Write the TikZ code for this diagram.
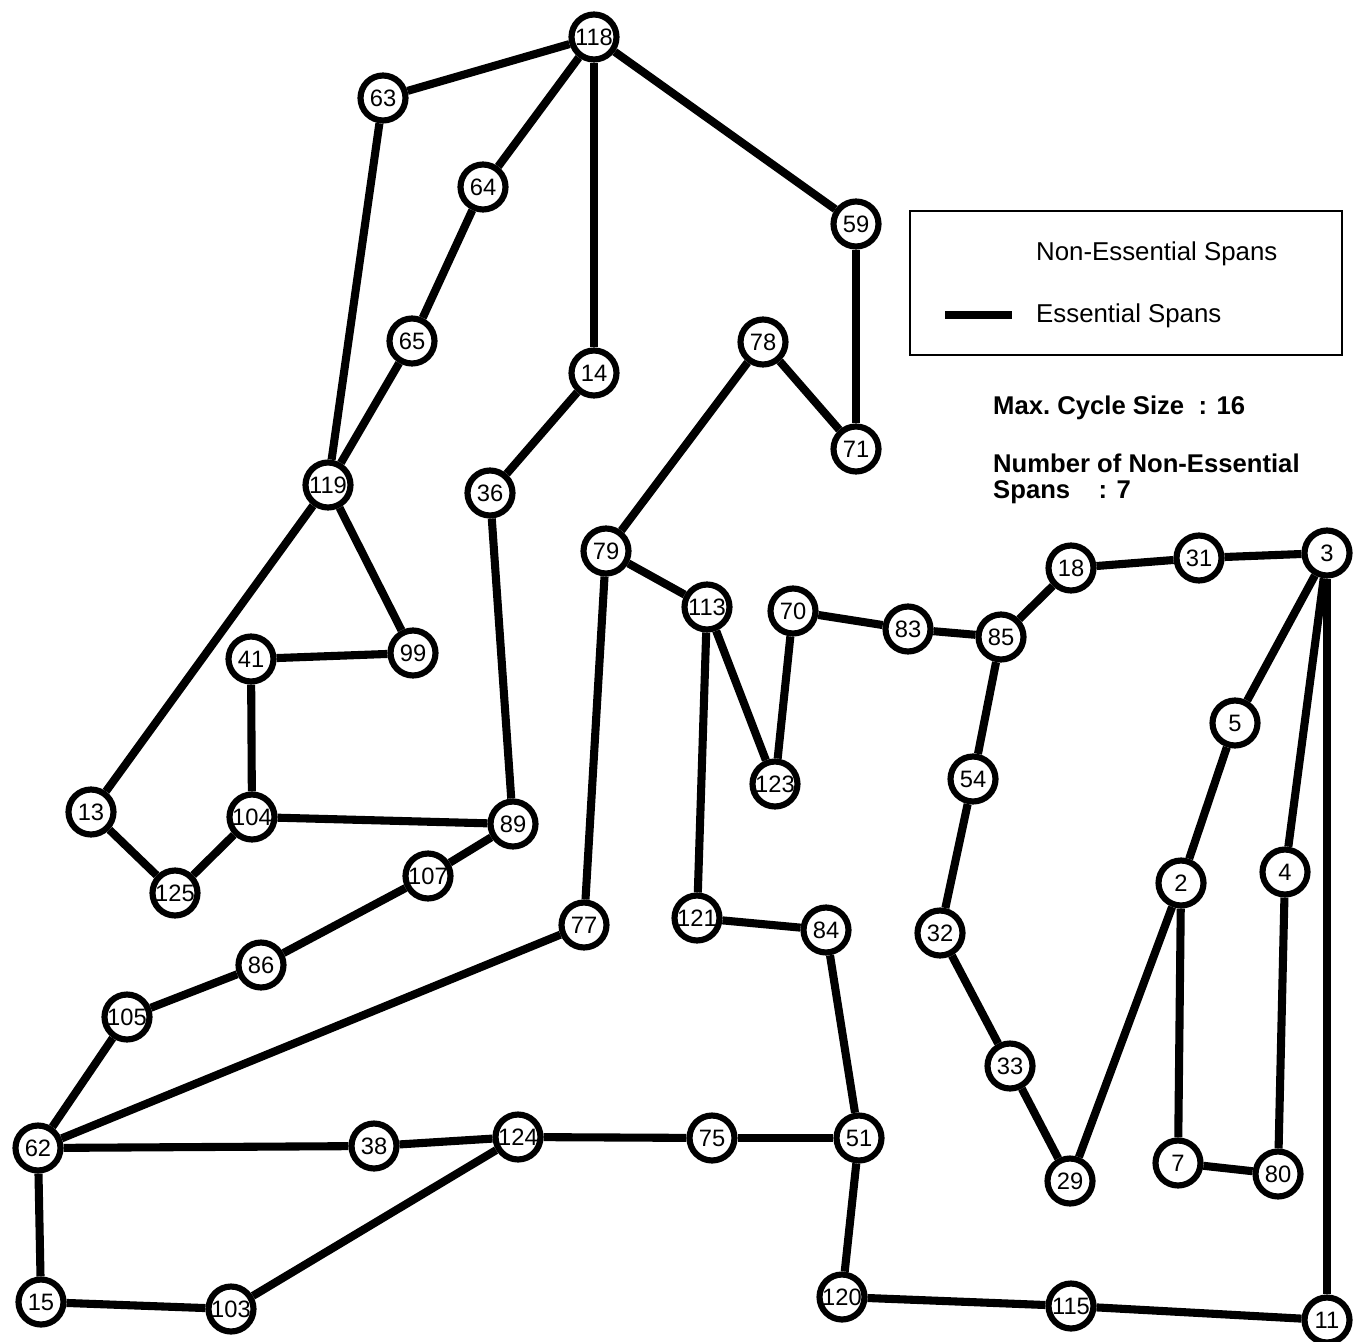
\documentclass[tikz,border=0pt]{standalone}
\usepackage{fontspec}
\setmainfont{Liberation Sans}
\usetikzlibrary{positioning}

\begin{document}
\begin{tikzpicture}[x=0.02cm, y=-0.02cm,
  site/.style={circle, draw, line width=3.5pt, fill=white, inner sep=0pt,
               minimum size=0.9cm, font=\fontsize{13.5}{13.5}\selectfont},
  span/.style={line width=4.6pt},
  legendtext/.style={anchor=west, font=\fontsize{14.7}{15}\selectfont},
  infotext/.style={anchor=west, align=left, font=\bfseries\fontsize{14.6}{14.8}\selectfont}
]
  \useasboundingbox (0,0) rectangle (1361,1341);
  % sites
  \foreach \name/\x/\y in {118/594/37, 63/383/98, 64/483/187, 59/856/224,
      65/412/341, 14/594/373, 78/763/342, 71/856/449, 119/328/485, 36/490/493,
      79/606/551, 113/707/607, 70/793/611, 83/908/629, 85/1001/637, 18/1071/568,
      31/1199/558, 3/1327/553, 41/251/659, 99/413/653, 5/1235/723, 54/973/779,
      123/775/784, 13/91/812, 104/252/817, 89/513/824, 107/428/876, 125/175/893,
      4/1285/872, 2/1181/883, 77/584/925, 121/697/918, 84/826/930, 32/940/933,
      86/261/965, 105/127/1017, 33/1010/1066, 62/38/1148, 38/374/1146,
      124/518/1137, 75/712/1138, 51/859/1138, 29/1070/1181, 7/1178/1163,
      80/1278/1174, 15/41/1302, 103/231/1309, 120/842/1297, 115/1071/1306,
      11/1327/1320}
    \node[site] (n\name) at (\x,\y) {\name};
  % essential spans
  \foreach \a/\b in {118/63, 63/119, 118/64, 64/65, 65/119, 118/14, 14/36,
      36/89, 118/59, 59/71, 71/78, 78/79, 79/113, 79/77, 113/123, 113/121,
      123/70, 70/83, 83/85, 85/18, 18/31, 31/3, 3/5, 5/2, 3/4, 3/11, 4/80,
      80/7, 7/2, 2/29, 29/33, 33/32, 32/54, 54/85, 119/99, 119/13, 99/41,
      41/104, 104/89, 104/125, 125/13, 89/107, 107/86, 86/105, 105/62, 77/62,
      62/38, 38/124, 124/75, 75/51, 124/103, 103/15, 15/62, 51/84, 84/121,
      51/120, 120/115, 115/11}
    \draw[span] (n\a) -- (n\b);
  % legend
  \node[draw, line width=0.8pt, minimum width=8.64cm, minimum height=2.88cm,
        inner sep=0pt] (legend) at (1126,283) {};
  \node[legendtext] (nonessential) at (1030,254) {Non-Essential Spans};
  \node[legendtext] (essential) at (1030,316) {Essential Spans};
  \coordinate (essentialA) at (945,315);
  \coordinate (essentialB) at (1012,315);
  \draw[span] (essentialA) -- (essentialB);
  \node[infotext] (cycle) at (987,408) {Max.\ Cycle Size\ \ : 16};
  \node[infotext] (count) at (987,479) {Number of Non-Essential\\Spans\ \ \ \ : 7};
\end{tikzpicture}
\end{document}
